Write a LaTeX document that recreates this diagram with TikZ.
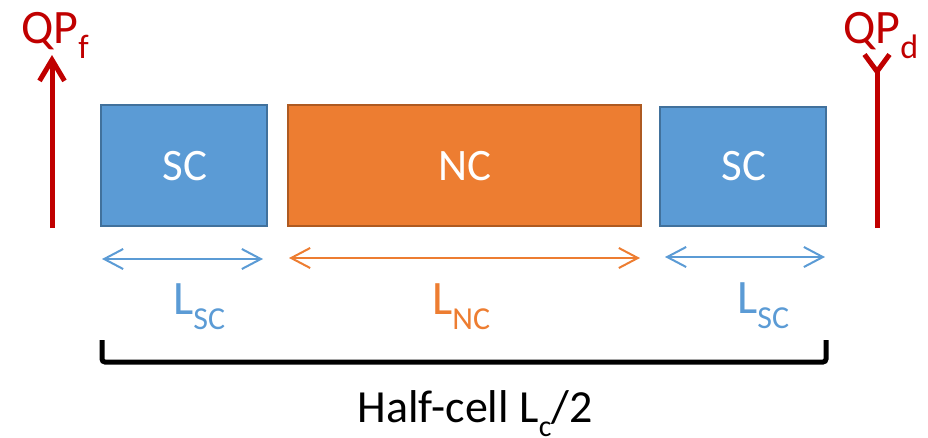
\documentclass[tikz,border=0pt]{standalone}
\usepackage{fontspec}
\setmainfont{Carlito}
\usetikzlibrary{arrows.meta}
\definecolor{scblue}{HTML}{5B9BD5}
\definecolor{scborder}{HTML}{41719C}
\definecolor{ncorange}{HTML}{ED7D31}
\definecolor{ncborder}{HTML}{AE5A21}
\definecolor{qpred}{HTML}{C00000}
\newcommand{\mysub}[2]{\raisebox{-0.32em}{\fontsize{#1}{#1}\selectfont #2}}
\begin{document}
\begin{tikzpicture}[x=1pt,y=-1pt,
  scbox/.style={draw=scborder,fill=scblue,line width=2.5pt},
  ncbox/.style={draw=ncborder,fill=ncorange,line width=2.5pt},
  boxtext/.style={text=white,font=\fontsize{45}{47}\selectfont},
  dimarrow/.style={line width=2pt,{Straight Barb[length=19pt,width=20pt]}-{Straight Barb[length=19pt,width=20pt]}},
  qparrow/.style={draw=qpred,line width=5pt},
  lbl/.style={inner sep=0pt,anchor=base west,font=\fontsize{48}{50}\selectfont}
]
\useasboundingbox (0,0) rectangle (928,437);
% boxes
\path[scbox] (101,105) rectangle (267,226);
\node[boxtext] (sc1) at (185,166) {SC};
\path[ncbox] (288,105) rectangle (641,226);
\node[boxtext] (nc) at (465,166) {NC};
\path[scbox] (660,107) rectangle (826,226);
\node[boxtext] (sc2) at (744,166) {SC};
% QP arrows
\coordinate (qpfb) at (52,228);
\coordinate (qpft) at (52,55);
\draw[qparrow,-{Straight Barb[length=21pt,width=25pt]}] (qpfb) -- (qpft);
\coordinate (qpdb) at (877,228);
\coordinate (qpdt) at (877,52);
\draw[qparrow,-{Straight Barb[reversed,length=17pt,width=25pt]}] (qpdb) -- (qpdt);
\node[lbl,text=qpred] (qpf) at (21,43) {QP\mysub{34}{f}};
\node[lbl,text=qpred] (qpd) at (843,43) {QP\mysub{34}{d}};
% dimension arrows
\coordinate (a1) at (102,259); \coordinate (a2) at (263,259);
\draw[dimarrow,scblue] (a1) -- (a2);
\coordinate (b1) at (289,258); \coordinate (b2) at (640,258);
\draw[dimarrow,ncorange] (b1) -- (b2);
\coordinate (c1) at (665,257); \coordinate (c2) at (825,257);
\draw[dimarrow,scblue] (c1) -- (c2);
\node[lbl,text=scblue] (lsc1) at (173,314) {L\mysub{32}{SC}};
\node[lbl,text=ncorange] (lnc) at (432,314) {L\mysub{32}{NC}};
\node[lbl,text=scblue] (lsc2) at (737,313) {L\mysub{32}{SC}};
% bracket
\coordinate (k1) at (102,340); \coordinate (k2) at (102,362);
\coordinate (k3) at (826,362); \coordinate (k4) at (826,340);
\draw[line width=5pt,rounded corners=3pt] (k1) -- (k2) -- (k3) -- (k4);
\node[inner sep=0pt,anchor=base,font=\fontsize{46}{48}\selectfont] (half) at (475,422) {Half-cell L\mysub{30}{c}/2};
\end{tikzpicture}
\end{document}
